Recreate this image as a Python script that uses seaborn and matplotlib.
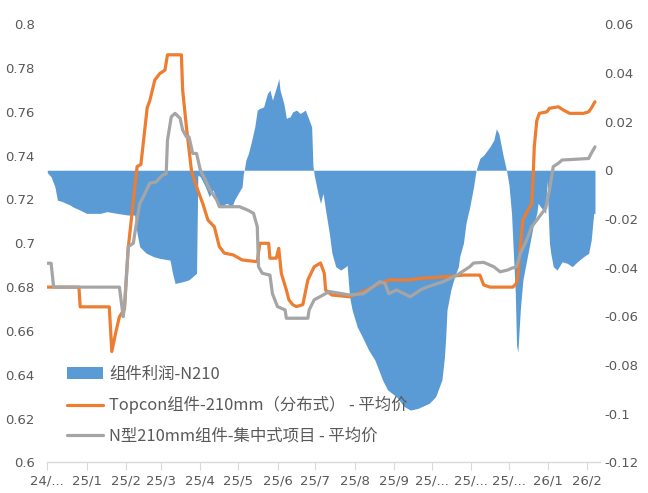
import numpy as np
import pandas as pd
import matplotlib
matplotlib.use("Agg")
import matplotlib.pyplot as plt
from matplotlib.patches import Patch
from matplotlib.lines import Line2D
from matplotlib.ticker import FixedLocator, FuncFormatter
import seaborn as sns

# ---- data -----------------------------------------------------------------
topcon_dates = [
    "2024-12-01", "2024-12-26", "2024-12-27", "2025-01-19", "2025-01-21", "2025-01-24",
    "2025-01-27", "2025-01-31", "2025-02-03", "2025-02-10", "2025-02-13", "2025-02-18",
    "2025-02-20", "2025-02-24", "2025-02-28", "2025-03-04", "2025-03-06", "2025-03-17",
    "2025-03-18", "2025-03-21", "2025-03-25", "2025-03-29", "2025-04-03", "2025-04-07",
    "2025-04-12", "2025-04-16", "2025-04-20", "2025-04-27", "2025-05-04", "2025-05-16",
    "2025-05-18", "2025-05-25", "2025-05-26", "2025-05-31", "2025-06-02", "2025-06-04",
    "2025-06-08", "2025-06-10", "2025-06-13", "2025-06-16", "2025-06-21", "2025-06-25",
    "2025-06-30", "2025-07-05", "2025-07-08", "2025-07-09", "2025-07-14", "2025-07-28",
    "2025-08-08", "2025-08-21", "2025-08-29", "2025-09-14", "2025-09-22", "2025-10-13",
    "2025-10-26", "2025-11-08", "2025-11-11", "2025-11-16", "2025-12-04", "2025-12-07",
    "2025-12-08", "2025-12-10", "2025-12-12", "2025-12-16", "2025-12-19", "2025-12-20",
    "2025-12-21", "2025-12-23", "2025-12-25", "2025-12-31", "2026-01-02", "2026-01-09",
    "2026-01-13", "2026-01-18", "2026-01-29", "2026-02-02", "2026-02-04", "2026-02-07",
]
topcon_price = [
    0.680, 0.680, 0.671, 0.671, 0.6506, 0.659,
    0.6665, 0.670, 0.698, 0.735, 0.736, 0.762,
    0.765, 0.7745, 0.7775, 0.779, 0.786, 0.786,
    0.770, 0.753, 0.733, 0.7258, 0.718, 0.7106,
    0.7076, 0.6985, 0.6955, 0.6947, 0.6924, 0.6916,
    0.700, 0.700, 0.6932, 0.6932, 0.6977, 0.6863,
    0.6787, 0.6742, 0.672, 0.6711, 0.672, 0.6833,
    0.6893, 0.691, 0.6863, 0.6787, 0.6764, 0.6756,
    0.678, 0.6817, 0.6833, 0.6833, 0.684, 0.6848,
    0.6855, 0.6855, 0.681, 0.680, 0.680, 0.6818,
    0.6848, 0.6985, 0.7106, 0.7152, 0.718, 0.7289,
    0.744, 0.756, 0.7593, 0.760, 0.7616, 0.7623,
    0.7608, 0.7593, 0.7593, 0.760, 0.7616, 0.7646,
]

ntype_dates = [
    "2024-12-01", "2024-12-04", "2024-12-06", "2025-01-27", "2025-01-29", "2025-01-30",
    "2025-01-31", "2025-02-03", "2025-02-07", "2025-02-09", "2025-02-12", "2025-02-15",
    "2025-02-20", "2025-02-25", "2025-03-02", "2025-03-05", "2025-03-06", "2025-03-09",
    "2025-03-12", "2025-03-16", "2025-03-18", "2025-03-21", "2025-03-23", "2025-03-26",
    "2025-03-29", "2025-04-01", "2025-04-05", "2025-04-08", "2025-04-14", "2025-04-16",
    "2025-05-02", "2025-05-09", "2025-05-13", "2025-05-16", "2025-05-17", "2025-05-20",
    "2025-05-26", "2025-05-28", "2025-06-01", "2025-06-07", "2025-06-08", "2025-06-25",
    "2025-06-26", "2025-06-30", "2025-07-07", "2025-07-12", "2025-07-28", "2025-08-08",
    "2025-08-21", "2025-08-25", "2025-08-28", "2025-09-03", "2025-09-14", "2025-09-22",
    "2025-09-27", "2025-10-10", "2025-10-21", "2025-10-31", "2025-11-03", "2025-11-11",
    "2025-11-19", "2025-11-24", "2025-11-30", "2025-12-03", "2025-12-07", "2025-12-10",
    "2025-12-15", "2025-12-19", "2025-12-23", "2025-12-27", "2025-12-30", "2026-01-02",
    "2026-01-05", "2026-01-09", "2026-01-12", "2026-02-02", "2026-02-04", "2026-02-07",
]
ntype_price = [
    0.6909, 0.6909, 0.680, 0.680, 0.671, 0.6665,
    0.671, 0.6985, 0.700, 0.7075, 0.718, 0.7213,
    0.7274, 0.728, 0.7311, 0.7318, 0.747, 0.7577,
    0.7593, 0.757, 0.7517, 0.7486, 0.7486, 0.741,
    0.741, 0.7334, 0.7289, 0.725, 0.7197, 0.7167,
    0.7167, 0.715, 0.7137, 0.7076, 0.6893, 0.6863,
    0.6855, 0.677, 0.6711, 0.6696, 0.6658, 0.6658,
    0.6696, 0.6742, 0.6764, 0.678, 0.6764, 0.677,
    0.6825, 0.6817, 0.677, 0.6787, 0.6756, 0.6787,
    0.680, 0.6825, 0.6855, 0.6893, 0.691, 0.6913,
    0.6893, 0.687, 0.6878, 0.6886, 0.6893, 0.6954,
    0.7015, 0.7076, 0.7106, 0.7137, 0.716, 0.7243,
    0.735, 0.7365, 0.738, 0.7387, 0.741, 0.744,
]

profit_dates = [
    "2024-12-01", "2024-12-04", "2024-12-07", "2024-12-09", "2024-12-13", "2024-12-19",
    "2024-12-21", "2024-12-27", "2025-01-01", "2025-01-12", "2025-01-17", "2025-01-25",
    "2025-02-03", "2025-02-08", "2025-02-10", "2025-02-12", "2025-02-17", "2025-02-23",
    "2025-02-28", "2025-03-08", "2025-03-10", "2025-03-12", "2025-03-18", "2025-03-23",
    "2025-03-29", "2025-03-30", "2025-04-01", "2025-04-05", "2025-04-08", "2025-04-11",
    "2025-04-14", "2025-04-16", "2025-04-22", "2025-04-26", "2025-04-28", "2025-05-01",
    "2025-05-04", "2025-05-05", "2025-05-06", "2025-05-07", "2025-05-09", "2025-05-11",
    "2025-05-14", "2025-05-16", "2025-05-18", "2025-05-21", "2025-05-24", "2025-05-26",
    "2025-05-28", "2025-06-01", "2025-06-02", "2025-06-03", "2025-06-06", "2025-06-08",
    "2025-06-11", "2025-06-13", "2025-06-16", "2025-06-19", "2025-06-23", "2025-06-25",
    "2025-06-28", "2025-06-29", "2025-06-30", "2025-07-03", "2025-07-05", "2025-07-07",
    "2025-07-09", "2025-07-12", "2025-07-14", "2025-07-17", "2025-07-21", "2025-07-25",
    "2025-07-26", "2025-07-28", "2025-07-30", "2025-08-03", "2025-08-07", "2025-08-12",
    "2025-08-17", "2025-08-20", "2025-08-23", "2025-08-27", "2025-09-03", "2025-09-09",
    "2025-09-14", "2025-09-20", "2025-09-29", "2025-10-04", "2025-10-09", "2025-10-11",
    "2025-10-12", "2025-10-13", "2025-10-16", "2025-10-19", "2025-10-22", "2025-10-23",
    "2025-10-26", "2025-10-28", "2025-10-31", "2025-11-03", "2025-11-05", "2025-11-08",
    "2025-11-11", "2025-11-13", "2025-11-16", "2025-11-19", "2025-11-21", "2025-11-23",
    "2025-11-25", "2025-11-26", "2025-11-29", "2025-12-01", "2025-12-03", "2025-12-06",
    "2025-12-07", "2025-12-08", "2025-12-10", "2025-12-12", "2025-12-15", "2025-12-18",
    "2025-12-20", "2025-12-23", "2025-12-24", "2025-12-27", "2025-12-30", "2025-12-31",
    "2026-01-02", "2026-01-03", "2026-01-05", "2026-01-08", "2026-01-12", "2026-01-16",
    "2026-01-20", "2026-01-24", "2026-01-29", "2026-02-02", "2026-02-04", "2026-02-06",
    "2026-02-07",
]
profit_value = [
    -0.001, -0.0027, -0.0068, -0.0123, -0.0129, -0.0143,
    -0.015, -0.0164, -0.0177, -0.0177, -0.0170, -0.0177,
    -0.0184, -0.0184, -0.026, -0.0314, -0.034, -0.0355,
    -0.0362, -0.0369, -0.0423, -0.0465, -0.0458, -0.045,
    -0.0423, -0.002, -0.0027, -0.0068, -0.0109, -0.0081,
    -0.0122, -0.015, -0.0136, -0.015, -0.0122, -0.0095,
    -0.0068, -0.0014, 0.001, 0.0042, 0.0069, 0.011,
    0.0178, 0.0247, 0.0254, 0.026, 0.0315, 0.0329,
    0.0288, 0.0356, 0.0377, 0.0329, 0.0274, 0.0213,
    0.022, 0.024, 0.0247, 0.0233, 0.0247, 0.022,
    0.0178, 0.002, -0.002, -0.0095, -0.0136, -0.0095,
    -0.0164, -0.026, -0.034, -0.0396, -0.041, -0.0396,
    -0.039, -0.052, -0.0574, -0.0643, -0.0684, -0.0738,
    -0.078, -0.082, -0.0861, -0.0902, -0.093, -0.097,
    -0.0985, -0.0978, -0.0957, -0.093, -0.0861, -0.0766,
    -0.0684, -0.0574, -0.0492, -0.0437, -0.0396, -0.0355,
    -0.030, -0.0218, -0.015, -0.0068, 0.000, 0.0049,
    0.0062, 0.0076, 0.0097, 0.0124, 0.0170, 0.0150,
    0.0097, 0.0069, 0.000, -0.006, -0.0177, -0.0505,
    -0.072, -0.0747, -0.057, -0.0451, -0.0369, -0.0287,
    -0.0232, -0.0177, -0.0136, -0.0157, -0.0177, -0.004,
    -0.030, -0.034, -0.0396, -0.041, -0.0376, -0.0382,
    -0.0396, -0.0376, -0.0355, -0.0341, -0.0287, -0.0177,
    -0.0177,
]

month_labels = ["24/...", "25/1", "25/2", "25/3", "25/4", "25/5", "25/6", "25/7",
                "25/8", "25/9", "25/...", "25/...", "25/...", "26/1", "26/2"]
series_names = ["组件利润-N210", "Topcon组件-210mm（分布式） - 平均价", "N型210mm组件-集中式项目 - 平均价"]

# ---- style ----------------------------------------------------------------
sns.set_theme(style="white")
plt.rcParams["font.family"] = ["Noto Sans CJK SC", "DejaVu Sans"]

BLUE = "#5B9BD5"
ORANGE = "#ED7D31"
GRAY = "#A5A5A5"
TEXT = "#595959"
AXIS = "#D9D9D9"

lines_df = pd.concat([
    pd.DataFrame({"date": pd.to_datetime(topcon_dates), "price": topcon_price, "series": series_names[1]}),
    pd.DataFrame({"date": pd.to_datetime(ntype_dates), "price": ntype_price, "series": series_names[2]}),
])
profit_df = pd.DataFrame({"date": pd.to_datetime(profit_dates), "profit": profit_value})

fig = plt.figure(figsize=(6.48, 4.93), dpi=100)
ax = fig.add_axes([0.073, 0.062, 0.853, 0.889])
ax2 = ax.twinx()

# profit area on the secondary (right) axis, kept behind the price lines
ax2.fill_between(profit_df["date"], profit_df["profit"], 0, color=BLUE, lw=0)
ax.set_zorder(ax2.get_zorder() + 1)
ax.patch.set_visible(False)

sns.lineplot(data=lines_df, x="date", y="price", hue="series",
             palette=[ORANGE, GRAY], hue_order=series_names[1:],
             linewidth=2.3, legend=False, ax=ax, sort=False)

x0, x1 = pd.Timestamp("2024-12-01"), pd.Timestamp("2026-02-11")
ax.set_xlim(x0, x1)
ax.set_ylim(0.6, 0.8)
ax2.set_ylim(-0.12, 0.06)

def fmt(v, _):
    s = f"{round(v, 2):g}"
    return "0" if s in ("-0", "0") else s

ax.yaxis.set_major_locator(FixedLocator(np.round(np.arange(0.6, 0.8001, 0.02), 2)))
ax.yaxis.set_major_formatter(FuncFormatter(fmt))
ax2.yaxis.set_major_locator(FixedLocator(np.round(np.arange(-0.12, 0.0601, 0.02), 2)))
ax2.yaxis.set_major_formatter(FuncFormatter(fmt))

month_ticks = pd.date_range("2024-12-01", "2026-02-01", freq="MS")
ax.set_xticks(month_ticks)
ax.set_xticklabels(month_labels)

ax.set_xlabel("")
ax.set_ylabel("")
for a in (ax, ax2):
    for sp in a.spines.values():
        sp.set_visible(False)
    a.grid(False)
ax.spines["bottom"].set_visible(True)
ax.spines["bottom"].set_color(AXIS)
ax.spines["bottom"].set_linewidth(1.0)

ax.tick_params(axis="x", which="major", length=6, width=0.8, color=AXIS, pad=3,
               labelsize=9.5, labelcolor=TEXT, bottom=True)
ax.tick_params(axis="y", length=0, pad=9, labelsize=9.5, labelcolor=TEXT)
ax2.tick_params(axis="y", length=0, pad=3, labelsize=9.5, labelcolor=TEXT)
for t in ax.get_xticklabels() + ax.get_yticklabels() + ax2.get_yticklabels():
    t.set_fontfamily(["DejaVu Sans"])

handles = [
    Patch(facecolor=BLUE, edgecolor="none"),
    Line2D([], [], color=ORANGE, lw=2.3),
    Line2D([], [], color=GRAY, lw=2.3),
]
leg = ax.legend(handles, series_names, loc="upper left",
                bbox_to_anchor=(0.103, 0.258), bbox_transform=fig.transFigure,
                frameon=False, fontsize=11.8, handlelength=2.2, handletextpad=0.4,
                labelspacing=0.82, borderpad=0, borderaxespad=0)
for t in leg.get_texts():
    t.set_color(TEXT)

fig.savefig("out.png", dpi=100)
